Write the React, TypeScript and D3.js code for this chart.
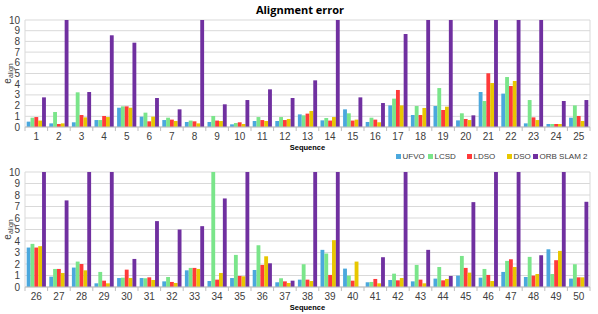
import React from 'react';
import * as d3 from 'd3';

const seriesNames = ['UFVO', 'LCSD', 'LDSO', 'DSO', 'ORB SLAM 2'];
const colors = ['#4ba8dd', '#7ae58a', '#ff3a3a', '#e8c700', '#7030a0'];

const seqTop = d3.range(1, 26).map(String);
const seqBottom = d3.range(26, 51).map(String);

// values per sequence (1..25), capped at 10 in the picture
const ufvoTop = [0.5, 0.34, 0.44, 0.65, 1.8, 0.97, 0.65, 0.47, 0.47, 0.25, 0.56, 0.56, 1.18, 0.62, 1.65, 0.47, 2.02, 1.12, 1.96, 0.62, 3.27, 3.12, 0.34, 0.28, 0.87];
const lcsdTop = [0.87, 1.4, 3.24, 0.65, 1.93, 1.34, 0.87, 0.6, 1.03, 0.37, 0.93, 0.93, 1.09, 0.84, 1.28, 0.87, 2.65, 1.96, 3.64, 1.28, 2.43, 4.67, 2.52, 0.28, 2.02];
const ldsoTop = [0.93, 0.28, 1.12, 1.03, 1.93, 0.53, 0.69, 0.53, 0.6, 0.44, 0.65, 0.65, 1.25, 0.6, 0.6, 0.69, 3.46, 1.12, 1.59, 0.75, 5.02, 3.83, 0.9, 0.28, 1.03];
const dsoTop = [0.6, 0.34, 0.9, 0.93, 1.8, 0.97, 0.56, 0.34, 0.56, 0.28, 0.56, 0.75, 1.5, 0.93, 0.69, 0.44, 2.02, 1.78, 1.9, 0.65, 4.11, 4.3, 0.65, 0.28, 0.56];
const orbTop = [2.77, 10, 3.27, 8.57, 7.88, 2.71, 1.65, 10, 2.12, 2.52, 3.52, 2.71, 4.36, 10, 2.77, 2.24, 8.69, 10, 10, 1.09, 10, 10, 10, 2.43, 2.52];

// values per sequence (26..50)
const ufvoBottom = [3.43, 0.9, 1.69, 0.32, 0.78, 0.78, 0.49, 1.45, 0.52, 0.78, 1.48, 0.41, 0.64, 3.23, 1.6, 0.41, 0.61, 0.49, 0.73, 0.99, 0.81, 1.31, 0.87, 3.28, 0.73];
const lcsdBottom = [3.75, 1.57, 2.21, 1.31, 0.81, 0.76, 0.87, 1.66, 10, 2.79, 3.63, 0.76, 1.98, 2.91, 0.99, 0.44, 1.16, 1.92, 1.74, 2.7, 1.57, 2.27, 2.62, 1.13, 1.98];
const ldsoBottom = [3.43, 1.57, 2.0, 0.55, 1.51, 0.84, 0.44, 1.66, 0.64, 0.96, 1.92, 0.49, 0.64, 1.05, 0.55, 0.7, 0.58, 0.64, 0.58, 1.66, 1.05, 2.41, 0.99, 2.33, 0.84];
const dsoBottom = [3.55, 1.22, 1.45, 0.32, 0.78, 0.61, 0.35, 1.57, 1.22, 0.93, 2.67, 0.35, 0.52, 4.07, 2.21, 0.32, 0.78, 0.32, 0.7, 1.25, 0.52, 1.74, 1.13, 3.14, 0.84];
const orbBottom = [10, 7.53, 10, 10, 2.44, 5.73, 5.0, 5.29, 7.7, 10, 2.06, 0.55, 10, 10, 0, 2.59, 10, 3.23, 0.96, 7.38, 10, 10, 2.76, 10, 7.41];

const yTicks = d3.range(0, 11);
const tickFont = '"Liberation Sans", Arial, sans-serif';
const titleFont = '"Open Sans", "Liberation Sans", sans-serif';

interface PanelProps {
  top: number;
  height: number;
  cats: string[];
  series: number[][];
}

const Panel: React.FC<PanelProps> = ({ top, height, cats, series }) => {
  const left = 25;
  const right = 590;
  const x = d3.scaleBand<string>().domain(cats).range([left, right]).paddingInner(0.15).paddingOuter(0.075);
  const x0 = d3.scaleLinear().domain([0, cats.length]).range([left, right]);
  const xi = d3.scaleBand<number>().domain(d3.range(series.length)).range([0, x.bandwidth()]);
  const y = d3.scaleLinear().domain([0, 10]).range([top + height, top]);

  return (
    <g>
      {yTicks.map(t => (
        <g key={t}>
          <line x1={left} x2={right} y1={y(t)} y2={y(t)} stroke="#d9d9d9" strokeWidth={1} />
          <text x={20} y={y(t)} dy="0.35em" textAnchor="end" fontSize={10} fill="#404040" fontFamily={tickFont}>{t}</text>
        </g>
      ))}
      <line x1={left} x2={left} y1={top} y2={top + height} stroke="#d9d9d9" />
      <line x1={right} x2={right} y1={top} y2={top + height} stroke="#d9d9d9" />
      {series.map((vals, s) => (
        <g key={s}>
          {vals.map((v, i) => (
            v > 0 ? (
              <rect key={i} x={(x(cats[i]) as number) + (xi(s) as number)} width={xi.bandwidth()}
                y={y(v)} height={y(0) - y(v)} fill={colors[s]} />
            ) : null
          ))}
        </g>
      ))}
      <line x1={left} x2={right} y1={y(0)} y2={y(0)} stroke="#bfbfbf" />
      {d3.range(cats.length + 1).map(i => (
        <line key={i} x1={x0(i)} x2={x0(i)} y1={y(0)} y2={y(0) + 4} stroke="#bfbfbf" />
      ))}
      {cats.map(c => (
        <text key={c} x={(x(c) as number) + x.bandwidth() / 2} y={y(0) + 13} textAnchor="middle" fontSize={10}
          fill="#404040" fontFamily={tickFont}>{c}</text>
      ))}
      <text x={(left + right) / 2} y={y(0) + 23} textAnchor="middle" fontSize={7.5} fontWeight="bold"
        fill="#000" fontFamily={tickFont}>Sequence</text>
      <text transform={`translate(11,${top + height / 2}) rotate(-90)`} textAnchor="middle" fontSize={10}
        fill="#404040" fontFamily={tickFont}>e<tspan fontSize={7} dy={2}>align</tspan></text>
    </g>
  );
};

const App: React.FC = () => {
  const legendX = [396, 428, 467, 507, 533];
  return (
    <svg width={598} height={314} style={{ position: 'absolute', left: 0, top: 0 }}>
      <rect width={598} height={314} fill="#fff" />
      <text x={300} y={14} textAnchor="middle" fontSize={11} fontWeight="bold" fontFamily={titleFont}>Alignment error</text>
      <Panel top={20} height={107} cats={seqTop} series={[ufvoTop, lcsdTop, ldsoTop, dsoTop, orbTop]} />
      <Panel top={172} height={115} cats={seqBottom} series={[ufvoBottom, lcsdBottom, ldsoBottom, dsoBottom, orbBottom]} />
      {seriesNames.map((n, i) => (
        <g key={n}>
          <rect x={legendX[i]} y={154} width={5} height={5} fill={colors[i]} />
          <text x={legendX[i] + 6.5} y={156.5} dy="0.35em" fontSize={8} fill="#404040" fontFamily={tickFont}>{n}</text>
        </g>
      ))}
    </svg>
  );
};

export default App;
